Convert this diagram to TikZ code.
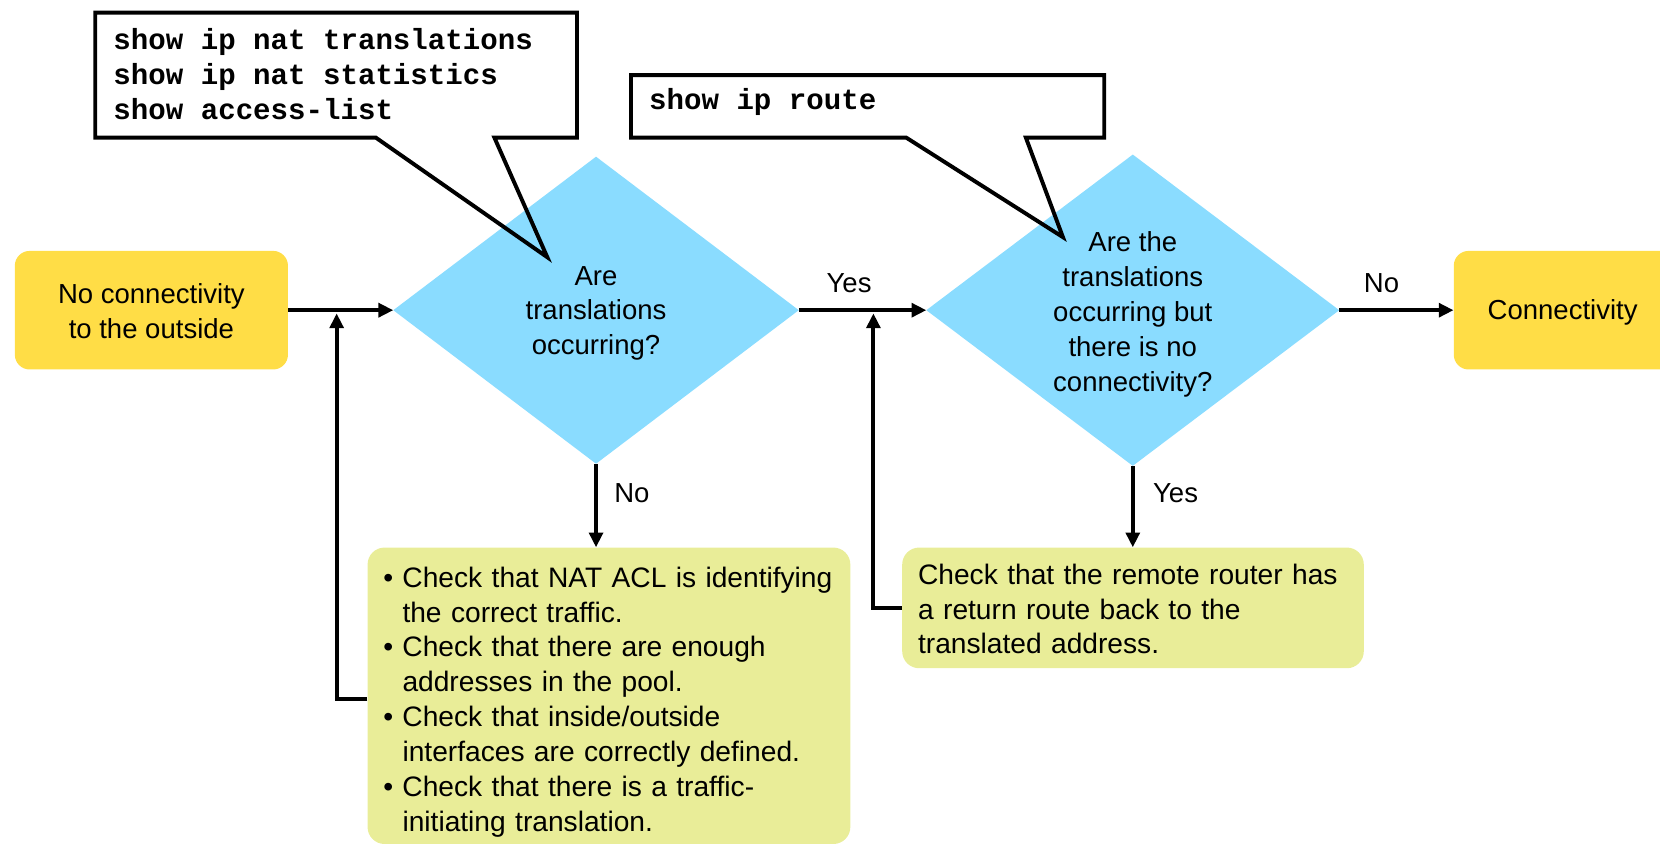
\documentclass[tikz,border=0pt]{standalone}
\usepackage{fontspec}
\setmainfont{Liberation Sans}
\setmonofont{Liberation Mono}
\usetikzlibrary{shapes.geometric,arrows.meta}
\definecolor{startyellow}{RGB}{255,221,70}
\definecolor{decblue}{RGB}{138,220,255}
\definecolor{notegreen}{RGB}{233,237,152}
\newcommand\bul{\makebox[18pt][l]{\textbullet}}
\newcommand\ind{\hspace*{18pt}}
\begin{document}
\begin{tikzpicture}[x=1pt,y=-1pt,
  every node/.style={font=\fontsize{26}{33}\selectfont},
  endbox/.style={fill=startyellow, rounded corners=14pt, minimum height=112pt,
    inner sep=0pt},
  decision/.style={diamond, fill=decblue, inner sep=0pt, outer sep=0pt},
  notebox/.style={fill=notegreen, rounded corners=16pt, inner sep=0pt},
  notetext/.style={inner sep=0pt, align=left,
    font=\fontsize{26.6}{33}\selectfont},
  flow/.style={line width=3.7pt, -{Triangle[length=14pt,width=13pt]}},
  callout/.style={draw=black, line width=3.7pt, line join=miter},
  code/.style={font=\ttfamily\bfseries\fontsize{27.5}{33}\selectfont,
    align=left, inner sep=0pt, anchor=west},
  lbl/.style={inner sep=0pt, align=center}
]
\useasboundingbox (0,0) rectangle (1568,798);
\clip (0,0) rectangle (1568,798);

% start and end states
\node[endbox, minimum width=258pt] (start) at (143,293) {};
\node[lbl] (starttext) at ([yshift=-1pt]start.center)
  {No connectivity\\to the outside};
\node[endbox, minimum width=210pt, anchor=west] (done) at (1373,293) {};
\node[lbl] (donetext) at (1476,295) {Connectivity};

% decisions
\node[decision, minimum width=383pt, minimum height=290pt] (d1) at (563,293) {};
\node[lbl] (d1text) at ([yshift=-3pt]d1.center) {Are\\translations\\occurring?};
\node[decision, minimum width=390pt, minimum height=294pt] (d2) at (1070,293) {};
\node[lbl] (d2text) at ([yshift=-4pt]d2.center)
  {Are the\\translations\\occurring but\\there is no\\connectivity?};

% remedies
\node[notebox, minimum width=456pt, minimum height=280pt, anchor=north west]
  (fix1) at (347,517) {};
\node[notetext, text width=426pt] (fix1text) at ([yshift=-6pt]fix1.center) {%
  \bul Check that NAT ACL is identifying\\
  \ind the correct traffic.\\
  \bul Check that there are enough\\
  \ind addresses in the pool.\\
  \bul Check that inside/outside\\
  \ind interfaces are correctly defined.\\
  \bul Check that there is a traffic-\\
  \ind initiating translation.};
\node[notebox, minimum width=436pt, minimum height=114pt, anchor=north west]
  (fix2) at (852,517) {};
\node[notetext, text width=406pt] (fix2text) at ([yshift=-1pt]fix2.center) {%
  Check that the remote router has\\
  a return route back to the\\
  translated address.};

% junctions on the main line
\coordinate (j1) at (318,296);
\coordinate (j2) at (825,296);

% connectors
\draw[flow] (start) -- (d1.west);
\draw[flow] (d1.east) -- (d2.west);
\draw[flow] (d2.east) -- (done.west);
\draw[flow] (d1.south) -- (fix1.north -| d1.south);
\draw[flow] (d2.south) -- (fix2.north -| d2.south);
\draw[flow] (fix1.west |- 0,660) -| (j1);
\draw[flow] (fix2.west) -| (j2);

% branch labels
\node[lbl] (yes1) at (802,267) {Yes};
\node[lbl] (no2) at (1305,267) {No};
\node[lbl, anchor=west] (no1) at (580,466) {No};
\node[lbl, anchor=west] (yes2) at (1089,466) {Yes};

% command callouts
\draw[callout] (90,12) -- (545,12) -- (545,130) -- (467,130) -- (517,243)
  -- (355,130) -- (90,130) -- cycle;
\node[code] (cmd1) at (107,70)
  {show ip nat translations\\show ip nat statistics\\show access-list};
\draw[callout] (596,71) -- (1043,71) -- (1043,130) -- (969,130) -- (1004,224)
  -- (856,130) -- (596,130) -- cycle;
\node[code] (cmd2) at (613,96) {show ip route};
\end{tikzpicture}
\end{document}
